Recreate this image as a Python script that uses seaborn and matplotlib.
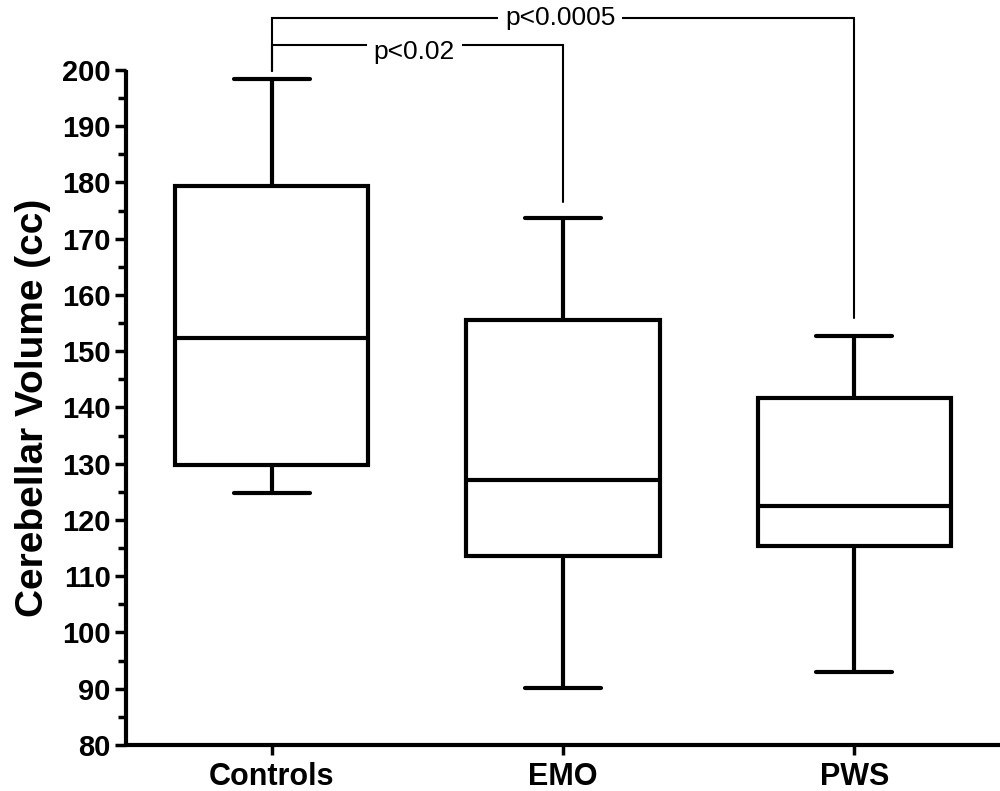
import matplotlib
matplotlib.use("Agg")
import matplotlib.pyplot as plt
import seaborn as sns
import pandas as pd
import numpy as np
from matplotlib.ticker import MultipleLocator

# ---- data (five-number summaries) ----
groups = ["Controls", "EMO", "PWS"]
whisker_low = [124.8, 90.1, 93.0]
q1 = [129.8, 113.6, 115.4]
median = [152.4, 127.1, 122.5]
q3 = [179.4, 155.6, 141.7]
whisker_high = [198.4, 173.7, 152.7]

# significance brackets
bracket_pairs = [("Controls", "EMO"), ("Controls", "PWS")]
bracket_levels = [204.4, 209.2]
bracket_drop_ends = [176.6, 155.9]
bracket_start_end = 199.8
bracket_labels = ["p<0.02", "p<0.0005"]
bracket_label_y = [203.2, 209.2]

rows = []
for g, a, b, c, d, e in zip(groups, whisker_low, q1, median, q3, whisker_high):
    for v in (a, b, c, d, e):
        rows.append({"group": g, "volume": v})
df = pd.DataFrame(rows)

sns.set_style("ticks")
plt.rcParams["font.family"] = ["Liberation Sans", "DejaVu Sans"]
plt.rcParams["text.color"] = "black"
plt.rcParams["axes.labelcolor"] = "black"
plt.rcParams["xtick.color"] = "black"
plt.rcParams["ytick.color"] = "black"
plt.rcParams["axes.edgecolor"] = "black"

fig = plt.figure(figsize=(10, 7.91), dpi=100)
ax = fig.add_axes([0.126, 0.0582, 0.874, 0.8533])

sns.boxplot(data=df, x="group", y="volume", order=groups, ax=ax,
            color="white", linecolor="black", linewidth=3, width=0.664,
            whis=(0, 100), capwidths=0.26, fliersize=0)

ax.set_ylim(80, 200)
ax.set_xlim(-0.5, 2.5)
ax.yaxis.set_major_locator(MultipleLocator(10))
ax.yaxis.set_minor_locator(MultipleLocator(5))

for sp in ["top", "right"]:
    ax.spines[sp].set_visible(False)
for sp in ["left", "bottom"]:
    ax.spines[sp].set_linewidth(3)
    ax.spines[sp].set_color("black")
    ax.spines[sp].set_capstyle("butt")

ax.tick_params(axis="y", which="major", length=8, width=2.5, color="black",
               labelcolor="black", labelsize=21, pad=3)
ax.tick_params(axis="y", which="minor", length=6, width=2.5, color="black")
ax.tick_params(axis="x", which="major", length=7, width=2.5, color="black",
               labelcolor="black", labelsize=22, pad=5)
for lab in ax.get_yticklabels() + ax.get_xticklabels():
    lab.set_fontweight("bold")

ax.set_xlabel("")
ax.set_ylabel("Cerebellar Volume (cc)", fontsize=28, fontweight="bold",
              labelpad=8, color="black")

pos = {g: i for i, g in enumerate(groups)}
for (ga, gb), lvl, dend, lab, ly in zip(bracket_pairs, bracket_levels,
                                        bracket_drop_ends, bracket_labels,
                                        bracket_label_y):
    xa, xb = pos[ga], pos[gb]
    ax.plot([xa, xa, xb, xb], [bracket_start_end, lvl, lvl, dend],
            color="black", lw=1.5, clip_on=False, zorder=5,
            solid_joinstyle="miter")
    ax.text((xa + xb) / 2 - 0.01, ly, lab, ha="center", va="center",
            fontsize=19, color="black", zorder=6, clip_on=False,
            bbox=dict(boxstyle="square,pad=0.25", fc="white", ec="none"))

fig.savefig("out.png", dpi=100)
